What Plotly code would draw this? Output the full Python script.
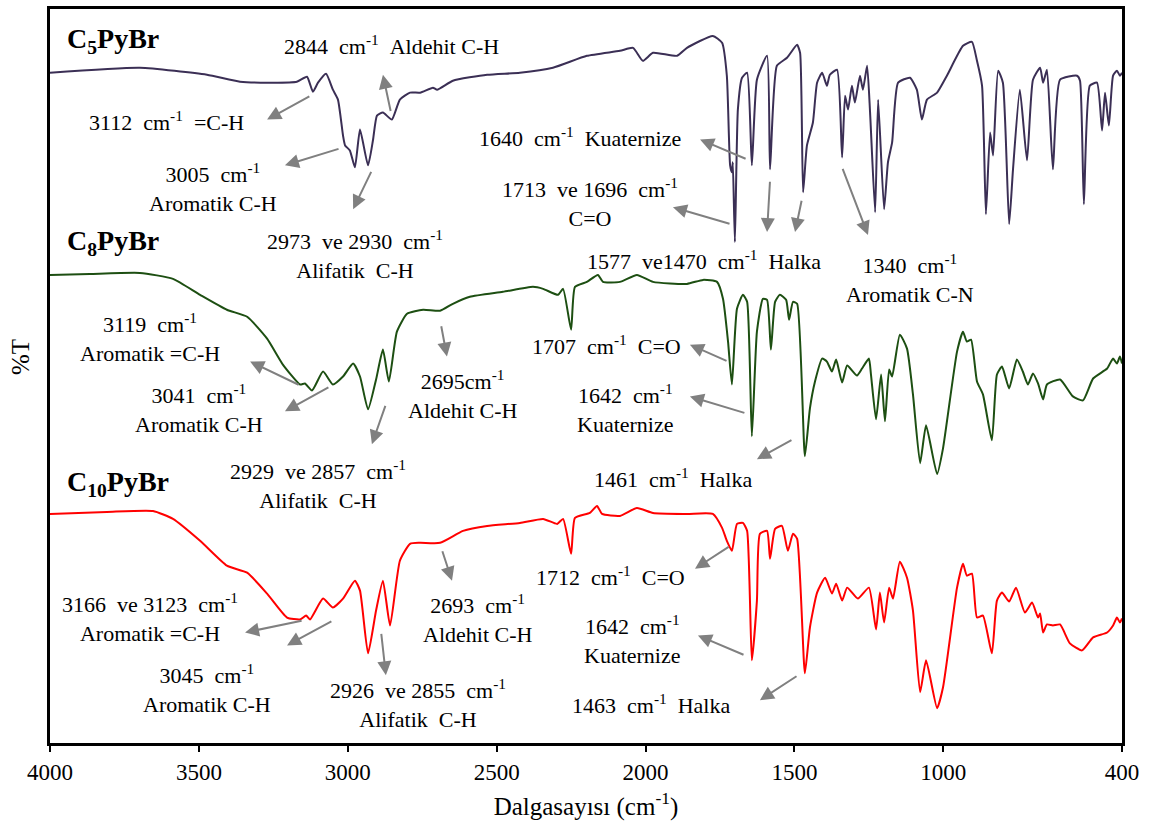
import plotly.graph_objects as go

# ---------------- data (wavenumber cm-1, %T offset units) ----------------
c5_wn = [4000, 3698, 3473, 3362, 3251, 3171, 3137, 3117, 3100, 3073, 3050, 3033, 3016, 3009, 2993, 2976,
         2959, 2932, 2915, 2902, 2882, 2852, 2825, 2791, 2757, 2714, 2700, 2647, 2532, 2422, 2311, 2197,
         2086, 2042, 2009, 1975, 1894, 1861, 1774, 1743, 1727, 1716, 1710, 1707, 1700, 1690, 1676, 1659,
         1643, 1626, 1592, 1582, 1559, 1525, 1491, 1481, 1471, 1458, 1438, 1424, 1407, 1391, 1381, 1357,
         1340, 1330, 1320, 1307, 1297, 1280, 1270, 1256, 1246, 1229, 1219, 1199, 1186, 1172, 1152, 1112,
         1089, 1072, 1055, 1021, 988, 934, 904, 887, 870, 857, 843, 833, 816, 800, 779, 766, 743, 719,
         699, 675, 665, 652, 632, 608, 551, 541, 528, 508, 484, 467, 457, 444, 430, 417, 407, 400]
c5_t = [675, 680, 673, 666, 665, 666, 671, 656, 665, 674, 658, 648, 612, 602, 597, 580,
        618, 582, 608, 632, 635, 628, 648, 655, 655, 660, 658, 667, 673, 675, 680, 692,
        697, 700, 687, 695, 692, 700, 712, 705, 672, 582, 575, 585, 505, 638, 670, 675,
        582, 668, 692, 578, 682, 690, 703, 695, 555, 602, 625, 665, 675, 662, 673, 678,
        590, 652, 638, 662, 645, 672, 658, 682, 635, 535, 648, 538, 585, 605, 665, 670,
        658, 628, 648, 655, 672, 702, 706, 687, 662, 533, 615, 592, 677, 665, 523, 578, 658, 587,
        668, 680, 665, 678, 578, 668, 672, 667, 543, 662, 665, 617, 655, 622, 672, 677, 672, 675]

c8_wn = [4000, 3866, 3698, 3587, 3496, 3406, 3338, 3271, 3218, 3160, 3144, 3120, 3083, 3050, 3016, 2982,
         2959, 2932, 2905, 2882, 2862, 2835, 2801, 2747, 2690, 2647, 2590, 2479, 2378, 2344, 2294, 2277,
         2250, 2237, 2197, 2160, 2143, 2086, 2029, 1975, 1861, 1807, 1760, 1740, 1723, 1710, 1693, 1673,
         1659, 1643, 1626, 1606, 1592, 1579, 1565, 1549, 1528, 1518, 1505, 1491, 1465, 1448, 1431, 1407,
         1391, 1374, 1360, 1340, 1323, 1290, 1273, 1250, 1243, 1226, 1209, 1196, 1182, 1172, 1146, 1122,
         1102, 1078, 1058, 1021, 1001, 954, 934, 921, 907, 887, 867, 837, 820, 803, 779, 753, 733, 716,
         699, 682, 665, 652, 608, 565, 531, 497, 450, 430, 417, 407, 400]
c8_t = [472, 473, 474, 468, 452, 437, 430, 408, 382, 362, 363, 356, 375, 362, 370, 383,
        370, 337, 367, 397, 365, 415, 433, 437, 436, 443, 450, 455, 460, 458, 452, 458,
        417, 460, 465, 472, 465, 465, 472, 465, 463, 467, 465, 448, 405, 362, 438, 452,
        445, 310, 415, 448, 447, 397, 445, 452, 447, 427, 445, 443, 290, 338, 365, 388,
        385, 375, 387, 364, 381, 371, 378, 388, 372, 327, 372, 325, 377, 370, 412, 398,
        352, 283, 321, 272, 298, 395, 415, 405, 407, 365, 352, 306, 372, 380, 358, 387, 375, 362,
        373, 363, 347, 362, 367, 350, 346, 368, 378, 388, 383, 390, 383]

c10_wn = [4000, 3809, 3654, 3587, 3496, 3406, 3338, 3271, 3204, 3160, 3140, 3127, 3083, 3050, 3016, 2976,
          2959, 2932, 2905, 2882, 2858, 2825, 2791, 2757, 2690, 2613, 2532, 2422, 2344, 2297, 2277, 2250,
          2237, 2187, 2163, 2146, 2086, 2029, 1975, 1861, 1774, 1743, 1727, 1710, 1693, 1673, 1659, 1643,
          1626, 1616, 1592, 1582, 1565, 1542, 1522, 1505, 1491, 1465, 1448, 1424, 1397, 1374, 1360, 1340,
          1323, 1287, 1250, 1226, 1213, 1199, 1182, 1169, 1146, 1122, 1102, 1078, 1058, 1021, 1001, 954,
          934, 921, 904, 887, 867, 837, 820, 803, 779, 756, 726, 702, 682, 675, 665, 652, 632, 608,
          575, 534, 497, 450, 430, 417, 407, 400]
c10_t = [232, 234, 235, 227, 205, 180, 173, 152, 128, 126, 130, 126, 147, 138, 147, 165,
         155, 92, 135, 165, 120, 185, 202, 203, 203, 215, 220, 223, 227, 222, 227, 192,
         228, 233, 240, 232, 230, 238, 233, 232, 232, 218, 205, 195, 222, 223, 215, 85,
         145, 212, 215, 187, 217, 220, 195, 212, 207, 72, 118, 153, 168, 152, 162, 145,
         158, 147, 158, 116, 153, 123, 158, 147, 184, 168, 135, 53, 85, 37, 58, 158,
         182, 170, 172, 128, 130, 92, 145, 153, 144, 158, 133, 143, 128, 132, 113, 121, 120, 121,
         102, 95, 108, 113, 120, 128, 123, 127]

tick_vals = [4000, 3500, 3000, 2500, 2000, 1500, 1000, 400]
tick_text = ["4000", "3500", "3000", "2500", "2000", "1500", "1000", "400"]

series_names = ["C<sub>5</sub>PyBr", "C<sub>8</sub>PyBr", "C<sub>10</sub>PyBr"]
series_colors = ["#3b2f55", "#1d4f12", "#ff0000"]

NB = "\u00a0"
CM = NB + NB + "cm<sup>-1</sup>"

# text labels: (text, x, y)
labels = [
    ("2844" + CM + NB + NB + "Aldehit C-H", 2852, 703),
    ("3112" + CM + NB + " =C-H", 3610, 627),
    ("3005" + CM + "<br>Aromatik C-H", 3453, 560),
    ("2973" + NB + " ve 2930" + CM + "<br>Alifatik" + NB + " C-H", 2976, 493),
    ("1640" + CM + NB + NB + "Kuaternize", 2220, 610),
    ("1713" + NB + " ve 1696" + CM + "<br>C=O", 2187, 545),
    ("1577" + NB + NB + "ve1470" + CM + NB + NB + "Halka", 1804, 487),
    ("1340" + CM + "<br>Aromatik C-N", 1112, 468),
    ("3119" + CM + "<br>Aromatik =C-H", 3664, 409),
    ("3041" + CM + "<br>Aromatik C-H", 3500, 338),
    ("2929" + NB + " ve 2857" + CM + "<br>Alifatik" + NB + " C-H", 3100, 262),
    ("2695cm<sup>-1</sup><br>Aldehit C-H", 2616, 352),
    ("1707" + CM + NB + NB + "C=O", 2130, 402),
    ("1642" + CM + "<br>Kuaternize", 2069, 338),
    ("1461" + CM + NB + NB + "Halka", 1908, 268),
    ("3166" + NB + " ve 3123" + CM + "<br>Aromatik =C-H", 3664, 128),
    ("3045" + CM + "<br>Aromatik C-H", 3473, 57),
    ("2926" + NB + " ve 2855" + CM + "<br>Alifatik" + NB + " C-H", 2764, 42),
    ("2693" + CM + "<br>Aldehit C-H", 2566, 127),
    ("1712" + CM + NB + NB + "C=O", 2119, 170),
    ("1642" + CM + "<br>Kuaternize", 2045, 106),
    ("1463" + CM + NB + NB + "Halka", 1982, 41),
]

# arrows: (head_x, head_y, tail_x, tail_y)
arrows = [
    (2882, 673, 2855, 635), (3271, 628, 3124, 652), (3211, 582, 3026, 599), (2982, 538, 2919, 577),
    (1817, 608, 1659, 588), (1908, 540, 1713, 523), (1592, 515, 1582, 567), (1498, 515, 1475, 548),
    (1253, 512, 1340, 580),
    (3328, 385, 3160, 361), (3211, 335, 3060, 360), (2919, 302, 2872, 342), (2667, 390, 2687, 422),
    (1851, 402, 1723, 385), (1851, 350, 1663, 333), (1626, 287, 1505, 307),
    (3345, 113, 3150, 125), (3204, 100, 3050, 125), (2872, 70, 2888, 113), (2650, 165, 2684, 196),
    (1834, 177, 1716, 200), (1824, 110, 1666, 90), (1616, 45, 1488, 70),
]

name_pos = [(3950, 707), (3950, 505), (3950, 263)]

# ---------------- figure ----------------
fig = go.Figure()
for wn, t, col in [(c5_wn, c5_t, series_colors[0]), (c8_wn, c8_t, series_colors[1]), (c10_wn, c10_t, series_colors[2])]:
    fig.add_trace(go.Scatter(x=wn, y=t, mode="lines",
                             line=dict(color=col, width=2, shape="spline", smoothing=0.5),
                             showlegend=False, hoverinfo="skip"))

FONT = "Liberation Serif"
anns = []
for txt, x, y in labels:
    anns.append(dict(x=x, y=y, xref="x", yref="y", text=txt, showarrow=False,
                     font=dict(family=FONT, size=22, color="black"), align="center"))
for (nm, (x, y)) in zip(series_names, name_pos):
    anns.append(dict(x=x, y=y, xref="x", yref="y", text="<b>" + nm + "</b>", showarrow=False,
                     xanchor="left", font=dict(family=FONT, size=28, color="black")))
for hx, hy, tx, ty in arrows:
    anns.append(dict(x=hx, y=hy, xref="x", yref="y", ax=tx, ay=ty, axref="x", ayref="y",
                     text="", showarrow=True, arrowhead=2, arrowsize=1.4, arrowwidth=2,
                     arrowcolor="#808080"))
anns.append(dict(x=-0.027, y=0.526, xref="paper", yref="paper", text="%T", showarrow=False,
                 xanchor="center", yanchor="middle",
                 textangle=-90, font=dict(family=FONT, size=25, color="black")))

fig.update_layout(
    width=1160, height=834,
    margin=dict(l=50, r=38, t=6, b=91),
    paper_bgcolor="white", plot_bgcolor="white",
    font=dict(family=FONT),
    annotations=anns,
    xaxis=dict(range=[4000, 400], tickvals=tick_vals, ticktext=tick_text,
               ticks="outside", ticklen=6, tickwidth=2, tickcolor="black",
               showline=True, linecolor="black", linewidth=3, mirror=True,
               showgrid=False, zeroline=False,
               tickfont=dict(family=FONT, size=23, color="black"),
               title=dict(text="Dalgasayısı (cm<sup>-1</sup>)", standoff=14,
                          font=dict(family=FONT, size=25, color="black"))),
    yaxis=dict(range=[2, 739], showticklabels=False, ticks="",
               showline=True, linecolor="black", linewidth=3, mirror=True,
               showgrid=False, zeroline=False),
)

fig.write_html("out.html")
